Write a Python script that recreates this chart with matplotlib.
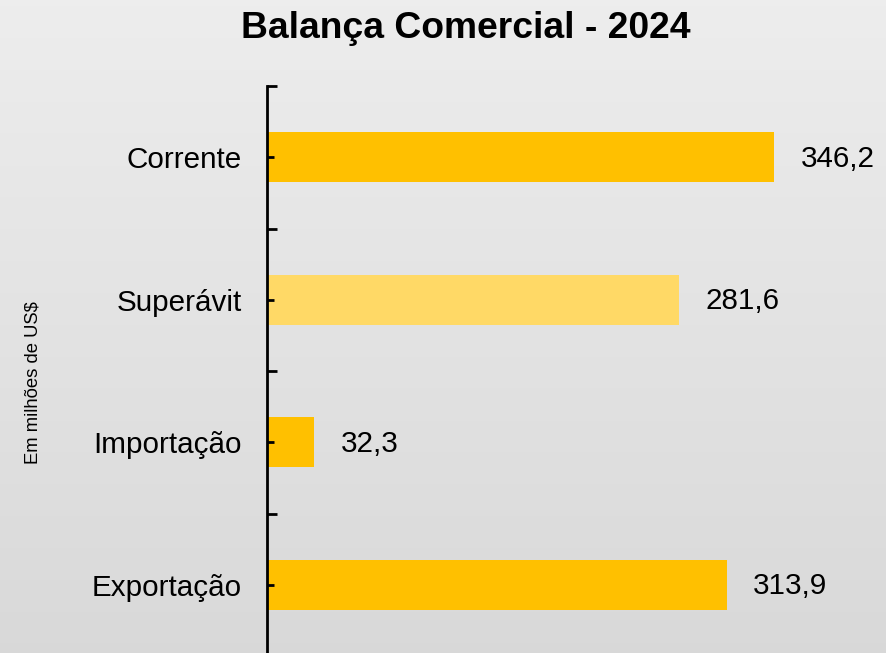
import numpy as np
import matplotlib
matplotlib.use("Agg")
from matplotlib import pyplot as plt

categorias = ["Exportação", "Importação", "Superávit", "Corrente"]
valores = [313.9, 32.3, 281.6, 346.2]
cores = ["#FFC000", "#FFC000", "#FFD966", "#FFC000"]
rotulos = ["313,9", "32,3", "281,6", "346,2"]

plt.rcParams["font.family"] = ["Liberation Sans", "DejaVu Sans"]

W, H = 887, 653
fig = plt.figure(figsize=(W / 100, H / 100), dpi=100)

# grey gradient background
bg = fig.add_axes([0, 0, 1, 1], zorder=-10)
grad = np.linspace(0.93, 0.85, 256).reshape(-1, 1)
bg.imshow(np.dstack([grad, grad, grad]), aspect="auto", extent=[0, 1, 0, 1])
bg.axis("off")

# axes: left spine at x=267, top at y=86, bottom just below the figure
left, top, bottom = 267, 86, 656
ax = fig.add_axes([left / W, (H - bottom) / H, 600 / W, (bottom - top) / H])
ax.patch.set_alpha(0)

y = np.arange(len(categorias))
ax.barh(y, valores, height=0.35, color=cores, zorder=1)
for yi, v, txt in zip(y, valores, rotulos):
    ax.annotate(txt, (v, yi), xytext=(19, -1), textcoords="offset points",
                ha="left", va="center", fontsize=21.3)

ax.set_xlim(0, 600 / 1.4645)
ax.set_ylim(-0.5, len(categorias) - 0.5)
for s in ["top", "right", "bottom"]:
    ax.spines[s].set_visible(False)
ax.spines["left"].set_linewidth(2)
ax.set_xticks([])

ax.set_yticks(y)
ax.set_yticklabels(categorias, fontsize=21.3)
ax.set_yticks(np.arange(-0.5, len(categorias), 1), minor=True)
ax.tick_params(axis="y", which="major", direction="in", length=5, width=2, pad=18)
ax.tick_params(axis="y", which="minor", direction="in", length=7, width=2)

fig.text(466 / W, 1 - 28 / H, "Balança Comercial - 2024", ha="center", va="center",
         fontsize=26.8, fontweight="bold")
fig.text(33 / W, 1 - 383 / H, "Em milhões de US$", rotation=90, ha="center",
         va="center", fontsize=13.3)

fig.savefig("out.png", dpi=100)
